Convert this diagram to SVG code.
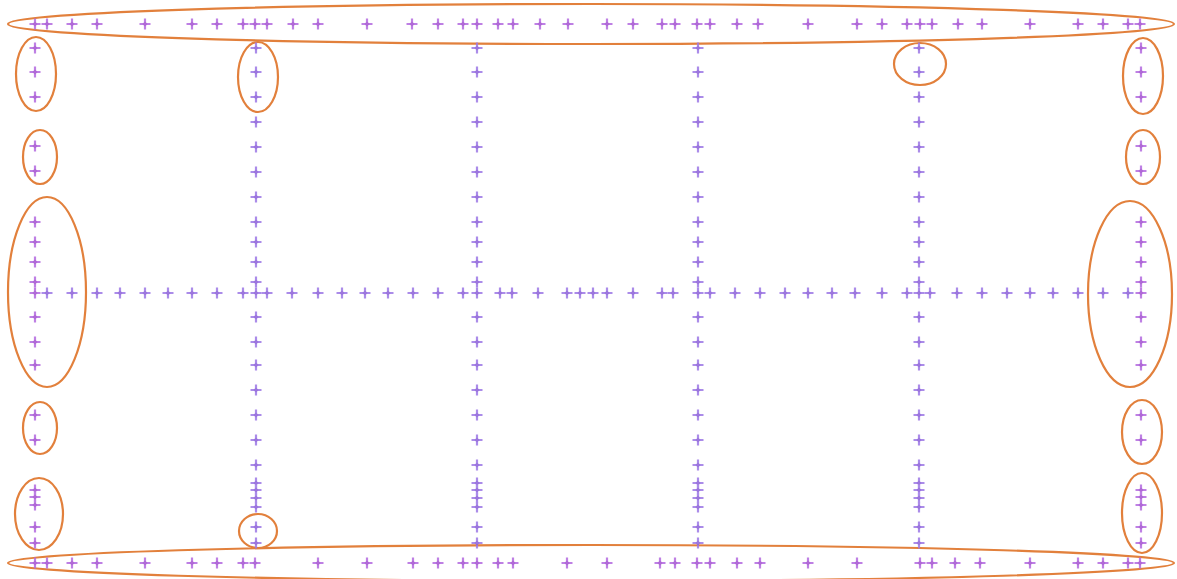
<svg xmlns="http://www.w3.org/2000/svg" xmlns:xlink="http://www.w3.org/1999/xlink" width="1177" height="579" viewBox="0 0 1177 579">
<style>
.bg{fill:#ffffff}
.cl{fill:none;stroke:#e2803c;stroke-width:2.2}
.p{stroke:#9d78e6;stroke-width:2.2;fill:#8a5fd8;opacity:0.85}
.m{stroke:#b36ae0;stroke-width:2.2;fill:#a24fd0;opacity:0.85}
</style>
<defs>
<g id="pt"><path d="M-5.5 0H5.5M0 -5.5V5.5"/><path d="M0 -2.6L2.6 0L0 2.6L-2.6 0Z" stroke="none"/></g>
</defs>
<rect class="bg" x="0" y="0" width="1177" height="579"/>
<g id="clusters">
<ellipse class="cl" cx="591" cy="24" rx="583" ry="20"/>
<ellipse class="cl" cx="591" cy="563" rx="583" ry="18"/>
<ellipse class="cl" cx="36" cy="74" rx="20" ry="37"/>
<ellipse class="cl" cx="40" cy="157" rx="17" ry="27"/>
<ellipse class="cl" cx="47" cy="292" rx="39" ry="95"/>
<ellipse class="cl" cx="40" cy="428" rx="17" ry="26"/>
<ellipse class="cl" cx="39" cy="514" rx="24" ry="36"/>
<ellipse class="cl" cx="1143" cy="76" rx="20" ry="38"/>
<ellipse class="cl" cx="1143" cy="157" rx="17" ry="27"/>
<ellipse class="cl" cx="1130" cy="294" rx="42" ry="93"/>
<ellipse class="cl" cx="1142" cy="432" rx="20" ry="32"/>
<ellipse class="cl" cx="1142" cy="513" rx="20" ry="40"/>
<ellipse class="cl" cx="258" cy="77" rx="20" ry="35"/>
<ellipse class="cl" cx="920" cy="64" rx="26" ry="21"/>
<ellipse class="cl" cx="258" cy="531" rx="19" ry="17"/>
</g>
<g id="top-row" class="m">
<use href="#pt" x="35" y="24"/><use href="#pt" x="47" y="24"/><use href="#pt" x="72" y="24"/><use href="#pt" x="97" y="24"/><use href="#pt" x="145" y="24"/><use href="#pt" x="192" y="24"/><use href="#pt" x="217" y="24"/><use href="#pt" x="243" y="24"/><use href="#pt" x="255" y="24"/><use href="#pt" x="267" y="24"/><use href="#pt" x="293" y="24"/><use href="#pt" x="318" y="24"/><use href="#pt" x="367" y="24"/><use href="#pt" x="412" y="24"/><use href="#pt" x="438" y="24"/><use href="#pt" x="463" y="24"/><use href="#pt" x="477" y="24"/><use href="#pt" x="498" y="24"/><use href="#pt" x="513" y="24"/><use href="#pt" x="540" y="24"/><use href="#pt" x="568" y="24"/><use href="#pt" x="607" y="24"/><use href="#pt" x="633" y="24"/><use href="#pt" x="662" y="24"/><use href="#pt" x="675" y="24"/><use href="#pt" x="697" y="24"/><use href="#pt" x="710" y="24"/><use href="#pt" x="737" y="24"/><use href="#pt" x="758" y="24"/><use href="#pt" x="808" y="24"/><use href="#pt" x="857" y="24"/><use href="#pt" x="882" y="24"/><use href="#pt" x="907" y="24"/><use href="#pt" x="920" y="24"/><use href="#pt" x="932" y="24"/><use href="#pt" x="958" y="24"/><use href="#pt" x="982" y="24"/><use href="#pt" x="1030" y="24"/><use href="#pt" x="1078" y="24"/><use href="#pt" x="1103" y="24"/><use href="#pt" x="1128" y="24"/><use href="#pt" x="1140" y="24"/>
</g>
<g id="bottom-row" class="m">
<use href="#pt" x="35" y="563"/><use href="#pt" x="47" y="563"/><use href="#pt" x="72" y="563"/><use href="#pt" x="97" y="563"/><use href="#pt" x="145" y="563"/><use href="#pt" x="192" y="563"/><use href="#pt" x="217" y="563"/><use href="#pt" x="243" y="563"/><use href="#pt" x="255" y="563"/><use href="#pt" x="318" y="563"/><use href="#pt" x="367" y="563"/><use href="#pt" x="413" y="563"/><use href="#pt" x="438" y="563"/><use href="#pt" x="463" y="563"/><use href="#pt" x="477" y="563"/><use href="#pt" x="498" y="563"/><use href="#pt" x="513" y="563"/><use href="#pt" x="567" y="563"/><use href="#pt" x="607" y="563"/><use href="#pt" x="660" y="563"/><use href="#pt" x="675" y="563"/><use href="#pt" x="697" y="563"/><use href="#pt" x="710" y="563"/><use href="#pt" x="737" y="563"/><use href="#pt" x="760" y="563"/><use href="#pt" x="808" y="563"/><use href="#pt" x="857" y="563"/><use href="#pt" x="920" y="563"/><use href="#pt" x="932" y="563"/><use href="#pt" x="955" y="563"/><use href="#pt" x="980" y="563"/><use href="#pt" x="1030" y="563"/><use href="#pt" x="1078" y="563"/><use href="#pt" x="1103" y="563"/><use href="#pt" x="1128" y="563"/><use href="#pt" x="1140" y="563"/>
</g>
<g id="middle-row" class="p">
<use href="#pt" x="47" y="293"/><use href="#pt" x="72" y="293"/><use href="#pt" x="97" y="293"/><use href="#pt" x="120" y="293"/><use href="#pt" x="145" y="293"/><use href="#pt" x="168" y="293"/><use href="#pt" x="192" y="293"/><use href="#pt" x="217" y="293"/><use href="#pt" x="243" y="293"/><use href="#pt" x="267" y="293"/><use href="#pt" x="292" y="293"/><use href="#pt" x="318" y="293"/><use href="#pt" x="342" y="293"/><use href="#pt" x="365" y="293"/><use href="#pt" x="388" y="293"/><use href="#pt" x="413" y="293"/><use href="#pt" x="438" y="293"/><use href="#pt" x="463" y="293"/><use href="#pt" x="500" y="293"/><use href="#pt" x="512" y="293"/><use href="#pt" x="538" y="293"/><use href="#pt" x="567" y="293"/><use href="#pt" x="580" y="293"/><use href="#pt" x="593" y="293"/><use href="#pt" x="607" y="293"/><use href="#pt" x="633" y="293"/><use href="#pt" x="662" y="293"/><use href="#pt" x="673" y="293"/><use href="#pt" x="710" y="293"/><use href="#pt" x="735" y="293"/><use href="#pt" x="760" y="293"/><use href="#pt" x="785" y="293"/><use href="#pt" x="808" y="293"/><use href="#pt" x="832" y="293"/><use href="#pt" x="855" y="293"/><use href="#pt" x="882" y="293"/><use href="#pt" x="907" y="293"/><use href="#pt" x="930" y="293"/><use href="#pt" x="957" y="293"/><use href="#pt" x="982" y="293"/><use href="#pt" x="1007" y="293"/><use href="#pt" x="1030" y="293"/><use href="#pt" x="1053" y="293"/><use href="#pt" x="1078" y="293"/><use href="#pt" x="1103" y="293"/><use href="#pt" x="1128" y="293"/>
</g>
<g id="left-col" class="m">
<use href="#pt" x="35" y="48"/><use href="#pt" x="35" y="72"/><use href="#pt" x="35" y="97"/><use href="#pt" x="35" y="146"/><use href="#pt" x="35" y="171"/><use href="#pt" x="35" y="222"/><use href="#pt" x="35" y="242"/><use href="#pt" x="35" y="262"/><use href="#pt" x="35" y="282"/><use href="#pt" x="35" y="293"/><use href="#pt" x="35" y="317"/><use href="#pt" x="35" y="342"/><use href="#pt" x="35" y="365"/><use href="#pt" x="35" y="415"/><use href="#pt" x="35" y="440"/><use href="#pt" x="35" y="490"/><use href="#pt" x="35" y="497"/><use href="#pt" x="35" y="505"/><use href="#pt" x="35" y="527"/><use href="#pt" x="35" y="543"/>
</g>
<g id="right-col" class="m">
<use href="#pt" x="1141" y="48"/><use href="#pt" x="1141" y="72"/><use href="#pt" x="1141" y="97"/><use href="#pt" x="1141" y="146"/><use href="#pt" x="1141" y="171"/><use href="#pt" x="1141" y="222"/><use href="#pt" x="1141" y="242"/><use href="#pt" x="1141" y="262"/><use href="#pt" x="1141" y="282"/><use href="#pt" x="1141" y="293"/><use href="#pt" x="1141" y="317"/><use href="#pt" x="1141" y="342"/><use href="#pt" x="1141" y="365"/><use href="#pt" x="1141" y="415"/><use href="#pt" x="1141" y="440"/><use href="#pt" x="1141" y="490"/><use href="#pt" x="1141" y="497"/><use href="#pt" x="1141" y="505"/><use href="#pt" x="1141" y="527"/><use href="#pt" x="1141" y="543"/>
</g>
<g id="col-256" class="p">
<use href="#pt" x="256" y="48"/><use href="#pt" x="256" y="72"/><use href="#pt" x="256" y="97"/><use href="#pt" x="256" y="122"/><use href="#pt" x="256" y="147"/><use href="#pt" x="256" y="172"/><use href="#pt" x="256" y="197"/><use href="#pt" x="256" y="222"/><use href="#pt" x="256" y="242"/><use href="#pt" x="256" y="262"/><use href="#pt" x="256" y="282"/><use href="#pt" x="256" y="293"/><use href="#pt" x="256" y="317"/><use href="#pt" x="256" y="342"/><use href="#pt" x="256" y="365"/><use href="#pt" x="256" y="390"/><use href="#pt" x="256" y="415"/><use href="#pt" x="256" y="440"/><use href="#pt" x="256" y="465"/><use href="#pt" x="256" y="483"/><use href="#pt" x="256" y="490"/><use href="#pt" x="256" y="498"/><use href="#pt" x="256" y="507"/><use href="#pt" x="256" y="527"/><use href="#pt" x="256" y="543"/>
</g>
<g id="col-477" class="p">
<use href="#pt" x="477" y="48"/><use href="#pt" x="477" y="72"/><use href="#pt" x="477" y="97"/><use href="#pt" x="477" y="122"/><use href="#pt" x="477" y="147"/><use href="#pt" x="477" y="172"/><use href="#pt" x="477" y="197"/><use href="#pt" x="477" y="222"/><use href="#pt" x="477" y="242"/><use href="#pt" x="477" y="262"/><use href="#pt" x="477" y="282"/><use href="#pt" x="477" y="293"/><use href="#pt" x="477" y="317"/><use href="#pt" x="477" y="342"/><use href="#pt" x="477" y="365"/><use href="#pt" x="477" y="390"/><use href="#pt" x="477" y="415"/><use href="#pt" x="477" y="440"/><use href="#pt" x="477" y="465"/><use href="#pt" x="477" y="483"/><use href="#pt" x="477" y="490"/><use href="#pt" x="477" y="498"/><use href="#pt" x="477" y="507"/><use href="#pt" x="477" y="527"/><use href="#pt" x="477" y="543"/>
</g>
<g id="col-698" class="p">
<use href="#pt" x="698" y="48"/><use href="#pt" x="698" y="72"/><use href="#pt" x="698" y="97"/><use href="#pt" x="698" y="122"/><use href="#pt" x="698" y="147"/><use href="#pt" x="698" y="172"/><use href="#pt" x="698" y="197"/><use href="#pt" x="698" y="222"/><use href="#pt" x="698" y="242"/><use href="#pt" x="698" y="262"/><use href="#pt" x="698" y="282"/><use href="#pt" x="698" y="293"/><use href="#pt" x="698" y="317"/><use href="#pt" x="698" y="342"/><use href="#pt" x="698" y="365"/><use href="#pt" x="698" y="390"/><use href="#pt" x="698" y="415"/><use href="#pt" x="698" y="440"/><use href="#pt" x="698" y="465"/><use href="#pt" x="698" y="483"/><use href="#pt" x="698" y="490"/><use href="#pt" x="698" y="498"/><use href="#pt" x="698" y="507"/><use href="#pt" x="698" y="527"/><use href="#pt" x="698" y="543"/>
</g>
<g id="col-919" class="p">
<use href="#pt" x="919" y="48"/><use href="#pt" x="919" y="72"/><use href="#pt" x="919" y="97"/><use href="#pt" x="919" y="122"/><use href="#pt" x="919" y="147"/><use href="#pt" x="919" y="172"/><use href="#pt" x="919" y="197"/><use href="#pt" x="919" y="222"/><use href="#pt" x="919" y="242"/><use href="#pt" x="919" y="262"/><use href="#pt" x="919" y="282"/><use href="#pt" x="919" y="293"/><use href="#pt" x="919" y="317"/><use href="#pt" x="919" y="342"/><use href="#pt" x="919" y="365"/><use href="#pt" x="919" y="390"/><use href="#pt" x="919" y="415"/><use href="#pt" x="919" y="440"/><use href="#pt" x="919" y="465"/><use href="#pt" x="919" y="483"/><use href="#pt" x="919" y="490"/><use href="#pt" x="919" y="498"/><use href="#pt" x="919" y="507"/><use href="#pt" x="919" y="527"/><use href="#pt" x="919" y="543"/>
</g>
</svg>
